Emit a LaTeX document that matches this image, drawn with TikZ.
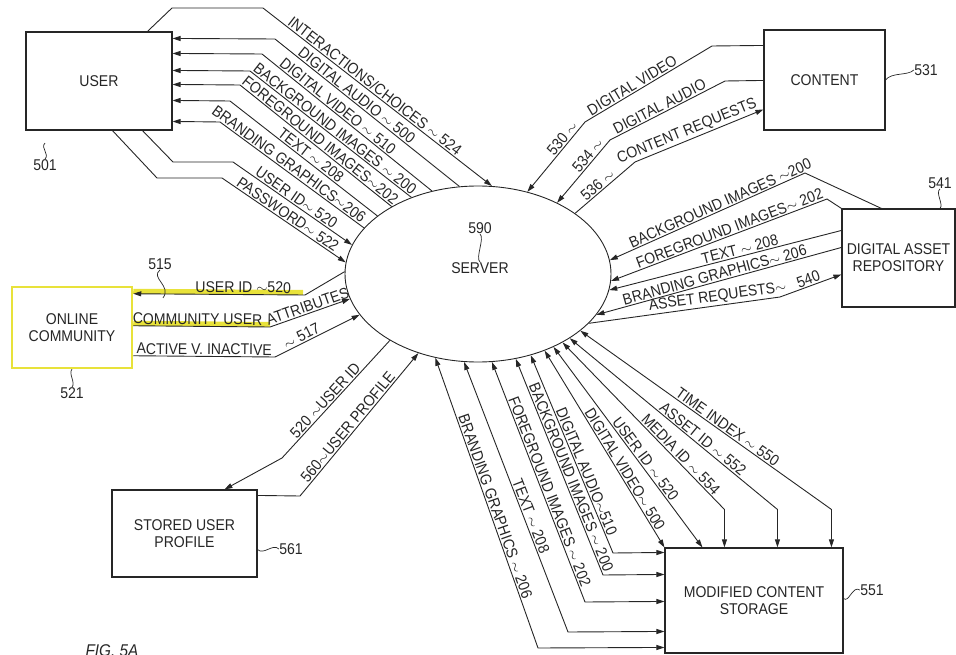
\documentclass[tikz,border=0pt]{standalone}
\usepackage{fontspec}
\setmainfont{Liberation Sans}[FakeStretch=0.9]
\usetikzlibrary{arrows.meta,calc,shapes.geometric}
\definecolor{hilite}{RGB}{232,226,58}
\newcommand{\sq}{\ensuremath{\sim}}
\newcommand{\lblfont}{\fontsize{15.6}{17}\selectfont}

\begin{document}
\begin{tikzpicture}[
  x=1pt, y=-1pt, >={Triangle[length=8pt,width=5pt]},
  color=black!85, line width=0.9pt,
  box/.style={draw, fill=white, line width=1.1pt, inner sep=1pt, align=center, font=\lblfont},
  lbl/.style={sloped, above, inner sep=1.2pt, font=\lblfont},
  num/.style={inner sep=0pt, font=\lblfont},
  lead/.style={line width=0.7pt},
  hl/.style={draw=hilite, line width=5pt},
]
\useasboundingbox (0,0) rectangle (956,655);

% blocks
\node[box, minimum width=146pt, minimum height=98pt] (user) at (99,81) {USER};
\node[box, minimum width=121pt, minimum height=100pt] (content) at (824.5,80) {CONTENT};
\node[box, minimum width=113pt, minimum height=98pt] (dar) at (898.5,258) {DIGITAL ASSET\\REPOSITORY};
\node[box, draw=hilite, line width=2.5pt, minimum width=120pt, minimum height=81pt] (online) at (72,327.5) {ONLINE\\COMMUNITY};
\node[box, minimum width=145pt, minimum height=87pt] (sup) at (184.5,533.5) {STORED USER\\PROFILE};
\node[box, minimum width=178pt, minimum height=105pt] (mcs) at (754,600.5) {MODIFIED CONTENT\\STORAGE};
\node[draw, ellipse, minimum width=266pt, minimum height=176pt, inner sep=0pt] (server) at (478,274) {};
\node[num] (srv) at (480,268) {SERVER};

% user <-> server
\draw[->] ($(user.north west)+(122,0)$) -- (172,8) -- (263,8) -- node[lbl,pos=0.47]{INTERACTIONS/CHOICES \sq{} 524} (server.81);
\draw[<-] ($(user.north east)+(0,7)$) -- (275,39) -- node[lbl,pos=0.42]{DIGITAL AUDIO \sq{} 500} (server.102);
\draw[<-] ($(user.north east)+(0,22)$) -- (262,54) -- node[lbl,pos=0.42]{DIGITAL VIDEO \sq{} 510} (server.119);
\draw[<-] ($(user.north east)+(0,39)$) -- (250,71) -- node[lbl,pos=0.5]{BACKGROUND IMAGES \sq{} 200} (server.131);
\draw[<-] ($(user.north east)+(0,53)$) -- (240,85) -- node[lbl,pos=0.5]{FOREGROUND IMAGES\sq{}202} (server.142);
\draw[<-] ($(user.north east)+(0,69)$) -- (230,101) -- node[lbl,pos=0.52]{TEXT \sq{} 208} (server.150);
\draw[<-] ($(user.north east)+(0,90)$) -- (220,122) -- node[lbl,pos=0.45]{BRANDING GRAPHICS\sq{}206} (server.158);
\draw[->] ($(user.south west)+(117,0)$) -- (173,162) -- (233,162) -- node[lbl,pos=0.5]{USER ID\sq{} 520} (server.167);
\draw[->] ($(user.south west)+(87,0)$) -- (157,178) -- (222,178) -- node[lbl,pos=0.5]{PASSWORD\sq{} 522} (server.175);

% content <-> server
\draw[<-] (server.59) -- node[lbl,pos=0.7]{530 \sq} (585,122) -- node[lbl,pos=0.4]{DIGITAL VIDEO} (712,46) -- ($(content.north west)+(0,16)$);
\draw[<-] (server.42) -- node[lbl,pos=0.68]{534 \sq} (610,140) -- node[lbl,pos=0.46]{DIGITAL AUDIO} (725,81) -- ($(content.north west)+(0,51)$);
\draw[->] (server.32) -- node[lbl,pos=0.45]{536 \sq} (635,162) -- node[lbl,pos=0.43]{CONTENT REQUESTS} ($(content.north west)+(0,80)$);

% asset repository <-> server
\draw[<-] (server.6) -- node[lbl,pos=0.58]{BACKGROUND IMAGES \sq{}200} (805,173) -- ($(dar.north west)+(40,0)$);
\draw[<-] (server.357) -- node[lbl,pos=0.56]{FOREGROUND IMAGES\sq{} 202} (827,199) -- (dar.north west);
\draw[<-] (server.353) -- node[lbl,pos=0.57]{TEXT \sq{} 208} ($(dar.north west)+(0,22)$);
\draw[<-] (server.341) -- node[lbl,pos=0.49]{BRANDING GRAPHICS\sq{} 206} ($(dar.north west)+(0,39)$);
\draw[->] (server.336) -- node[lbl,pos=0.68]{ASSET REQUESTS\sq} (780,297) -- node[lbl,pos=0.5]{540} ($(dar.north west)+(0,66)$);

% online community <-> server
\draw[hl] ($(online.north east)+(0,5.5)$) -- (303,292.5);
\draw[hl] ($(online.north east)+(0,37.5)$) -- (270,324.5);
\draw[<-] ($(online.north east)+(0,8)$) -- node[lbl,pos=0.64]{USER ID \sq520} (305,295) -- (server.179);
\draw[->] ($(online.north east)+(0,40)$) -- node[lbl,pos=0.47]{COMMUNITY USER} (270,327) -- node[lbl,pos=0.5]{ATTRIBUTES} (server.191);
\draw[->] ($(online.north east)+(0,70)$) -- node[lbl,pos=0.5]{ACTIVE V. INACTIVE} (275,357) -- node[lbl,pos=0.35]{\sq{} 517} (server.199);

% stored user profile <-> server
\draw[<-] ($(sup.north west)+(113,0)$) -- (282,458) -- node[lbl,pos=0.45]{520 \sq USER ID} (server.217);
\draw[->] ($(sup.north east)+(0,6)$) -- (300,496) -- node[lbl,pos=0.45]{560\sq USER PROFILE} (server.233);

% modified content storage <-> server
\draw[<->] (server.243) -- node[lbl,pos=0.52]{BRANDING GRAPHICS \sq{} 206} (538,648) -- ($(mcs.north west)+(0,100)$);
\draw[<->] (server.261) -- node[lbl,pos=0.58]{TEXT \sq{} 208} (568,632) -- ($(mcs.north west)+(0,84)$);
\draw[<->] (server.279) -- node[lbl,pos=0.55]{FOREGROUND IMAGES \sq{} 202} (585,602) -- ($(mcs.north west)+(0,54)$);
\draw[<->] (server.294) -- node[lbl,pos=0.56]{BACKGROUND IMAGES \sq{} 200} (603,575) -- ($(mcs.north west)+(0,27)$);
\draw[<->] (server.303) -- node[lbl,pos=0.6]{DIGITAL AUDIO\sq 510} (613,553) -- ($(mcs.north west)+(0,5)$);
\draw[<->] (server.311) -- node[lbl,pos=0.62]{DIGITAL VIDEO\sq{} 500} (mcs.north west);
\draw[<->] (server.316) -- node[lbl,pos=0.58]{USER ID \sq{} 520} ($(mcs.north west)+(38,0)$);
\draw[<->] (server.321) -- node[lbl,pos=0.7]{MEDIA ID \sq{} 554} ($(mcs.north west)+(60,-38)$) -- ($(mcs.north west)+(60,0)$);
\draw[<->] (server.325) -- node[lbl,pos=0.62]{ASSET ID \sq{} 552} ($(mcs.north west)+(113,-38)$) -- ($(mcs.north west)+(113,0)$);
\draw[<->] (server.331) -- node[lbl,pos=0.57]{TIME INDEX \sq{} 550} ($(mcs.north west)+(167,-38)$) -- ($(mcs.north west)+(167,0)$);

% reference numerals
\node[num] (n501) at (45,165) {501};
\draw[lead] (n501.north) .. controls +(5,-5) and +(-5,5) .. +(0,-16);
\node[num] (n531) at (926,70) {531};
\draw[lead] (content.east) .. controls +(6,-8) and +(-6,6) .. (n531.west);
\node[num] (n541) at (940,183) {541};
\draw[lead] (n541.south) .. controls +(-5,4) and +(4,-4) .. (dar.north -| n541.south);
\node[num] (n521) at (72,393) {521};
\draw[lead] (n521.north) .. controls +(4,-4) and +(-4,4) .. (online.south);
\node[num] (n515) at (160,264) {515};
\draw[lead] (n515.south) .. controls +(-10,8) and +(9,-12) .. +(3,28);
\node[num] (n561) at (291,549) {561};
\draw[lead] (n561.west) .. controls +(-6,-6) and +(6,6) .. ($(sup.east)+(0,16)$);
\node[num] (n551) at (872,590) {551};
\draw[lead] (n551.west) .. controls +(-7,-5) and +(5,5) .. ($(mcs.east)+(0,-2)$);
\node[num] (n590) at (480,228) {590};
\draw[lead] (n590.south) .. controls +(5,4) and +(-5,-4) .. (srv.north);

\node[anchor=north, font=\fontsize{17}{19}\selectfont\itshape] (fig) at (112,641) {FIG. 5A};
\end{tikzpicture}
\end{document}
